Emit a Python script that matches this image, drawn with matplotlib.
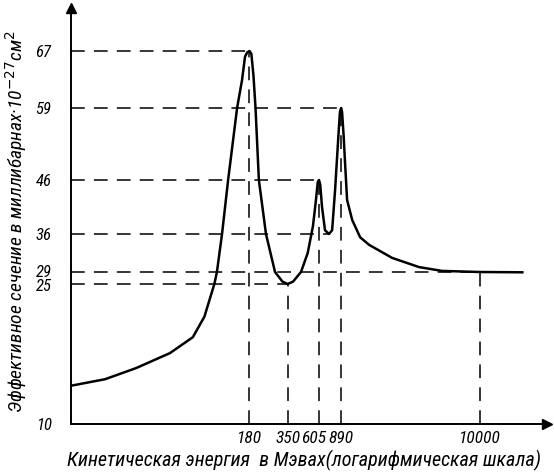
import matplotlib
matplotlib.use("Agg")
import matplotlib.pyplot as plt
import matplotlib.transforms as mtransforms
import numpy as np

# curve: energy in MeV, cross section in mb
energy = [8, 14.5, 25, 45, 67, 82, 97.5, 102, 111.5, 124, 145, 158, 166.5,
          173, 180, 186, 193, 200, 212, 240, 281, 320, 350, 385, 442, 497,
          545, 575, 592, 605, 618, 638, 672, 720, 761, 801, 845, 872, 890,
          905, 930, 954, 988, 1080, 1240, 1451, 2165, 3470, 5180, 10000, 21000]
sigma = [14.1, 14.8, 16.0, 17.6, 19.3, 21.5, 25, 29, 36, 46, 59, 62.9, 66.2,
         66.8, 67, 66.6, 63.5, 59, 46, 36, 29, 25.8, 25, 25.8, 29, 32.5,
         37.5, 42.5, 45.6, 46, 45.2, 41, 36.7, 36, 36.7, 44.1, 53.2, 58.3, 59,
         58.3, 54, 49, 42.3, 38.6, 35.4, 34.0, 31.6, 29.9, 29.2, 29, 28.9]

# guide lines
h_levels = [67, 59, 46, 36, 29, 25]
h_until = [180, 890, 605, 720, 10000, 350]
v_energy = [180, 350, 605, 890, 10000]
v_sigma = [67, 25, 46, 59, 29]

x_ticks = [180, 350, 605, 890, 10000]
y_ticks = [10, 25, 29, 36, 46, 59, 67]

# the y axis of the drawing is not uniform, so map it piecewise
y_knots = [10, 25, 29, 36, 46, 59, 67, 73]
y_pos = [0, 140, 152, 190, 244, 316, 373, 416]

def fwd(v):
    return np.interp(v, y_knots, y_pos)

def inv(p):
    return np.interp(p, y_pos, y_knots)

font = ['Roboto Condensed', 'DejaVu Sans']
fig = plt.figure(figsize=(5.54, 4.72), dpi=100)
ax = fig.add_axes([71/554, 48/472, 476/554, 416/472])

ax.set_xscale('log')
ax.set_yscale('function', functions=(fwd, inv))
ax.set_xlim(8, 32300)
ax.set_ylim(10, 73)

dash = dict(color='black', lw=1.1, ls=(0, (9, 6)))
for lev, e in zip(h_levels, h_until):
    ax.plot([8, e], [lev, lev], **dash)
for e, s in zip(v_energy, v_sigma):
    ax.plot([e, e], [10, s], **dash)

ax.plot(energy, sigma, color='black', lw=1.8, solid_joinstyle='round')

for s in ['top', 'right']:
    ax.spines[s].set_visible(False)
for s in ['left', 'bottom']:
    ax.spines[s].set_linewidth(1.4)
ax.plot(0, 1, marker='^', ms=7, color='black', transform=ax.transAxes, clip_on=False)
ax.plot(1, 0, marker='>', ms=7, color='black', transform=ax.transAxes, clip_on=False)

ax.set_xticks(x_ticks)
ax.set_xticklabels([str(t) for t in x_ticks])
ax.xaxis.set_minor_locator(matplotlib.ticker.NullLocator())
ax.set_yticks(y_ticks)
ax.set_yticklabels([str(t) for t in y_ticks])
ax.tick_params(length=0)
ax.tick_params(axis='y', pad=14, labelsize=12)
ax.tick_params(axis='x', pad=5, labelsize=12.5)
for lab in ax.get_xticklabels() + ax.get_yticklabels():
    lab.set_family(font)
    lab.set_style('italic')

# nudge the crowded labels apart a little, as in the drawing
xlabs = ax.get_xticklabels()
shift = mtransforms.ScaledTranslation(-4/72, 0, fig.dpi_scale_trans)
xlabs[2].set_transform(xlabs[2].get_transform() + shift)
ylabs = ax.get_yticklabels()
ylabs[1].set_transform(ylabs[1].get_transform()
                       + mtransforms.ScaledTranslation(0, -1/72, fig.dpi_scale_trans))
ylabs[2].set_transform(ylabs[2].get_transform()
                       + mtransforms.ScaledTranslation(0, 1/72, fig.dpi_scale_trans))

ax.set_ylabel('Эффективное сечение в миллибарнах·10$^{-27}$см$^2$',
              family=font, style='italic', fontsize=14)
ax.yaxis.set_label_coords(-0.088, 0.486)
ax.set_xlabel('Кинетическая энергия  в Мэвах(логарифмическая шкала)',
              family=font, style='italic', fontsize=14.5)
ax.xaxis.set_label_coords(0.489, -0.062)

fig.savefig('out.png', dpi=100)
